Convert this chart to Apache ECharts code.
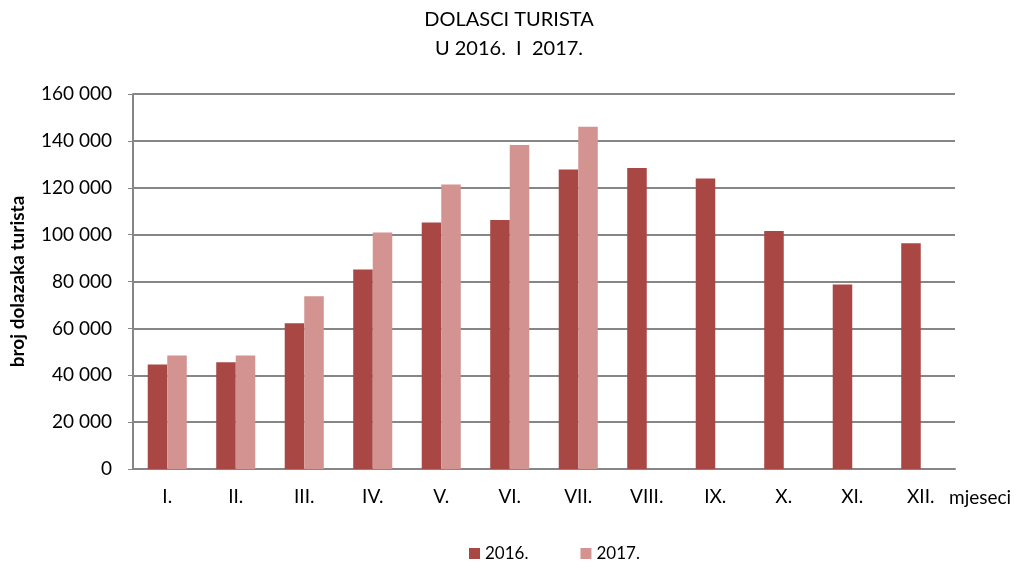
<!DOCTYPE html>
<html lang="hr">
<head>
    <meta charset="UTF-8">
    <title>Dolasci turista</title>
    <script src="https://cdn.jsdelivr.net/npm/echarts@6/dist/echarts.min.js"></script>
</head>
<body style="margin:0">
<div id="main" style="width: 1018px;height:564px;"></div>
<script type="text/javascript">
    var months = ['I.', 'II.', 'III.', 'IV.', 'V.', 'VI.', 'VII.', 'VIII.', 'IX.', 'X.', 'XI.', 'XII.'];
    var arrivals2016 = [44600, 45600, 62200, 85100, 105200, 106200, 127800, 128400, 124000, 101600, 78700, 96300];
    var arrivals2017 = [48400, 48400, 73700, 100900, 121400, 138200, 146000, null, null, null, null, null];

    var font = 'Lato';
    var myChart = echarts.init(document.getElementById('main'));

    myChart.setOption({
        animation: false,
        textStyle: { fontFamily: font },
        title: {
            text: 'DOLASCI TURISTA\nU 2016.  I  2017.',
            left: 'center',
            top: 0,
            textStyle: { fontFamily: font, fontSize: 20, fontWeight: 'normal', color: '#000', lineHeight: 29 }
        },
        legend: {
            top: 540,
            left: 464,
            itemWidth: 11,
            itemHeight: 11,
            itemGap: 52,
            icon: 'rect',
            textStyle: { fontFamily: font, fontSize: 17, color: '#000' },
            data: ['2016.', '2017.']
        },
        grid: { left: 133, right: 63, top: 94, bottom: 95, outerBoundsMode: 'none' },
        xAxis: {
            type: 'category',
            data: months,
            name: 'mjeseci',
            nameLocation: 'end',
            nameGap: -6,
            nameTextStyle: { fontFamily: font, fontSize: 19, color: '#000', verticalAlign: 'top', padding: [19, 0, 0, 0] },
            axisLine: { lineStyle: { color: '#868686', width: 2 } },
            axisTick: { show: false },
            axisLabel: { fontFamily: font, fontSize: 19, color: '#000', margin: 18 }
        },
        yAxis: {
            type: 'value',
            min: 0,
            max: 160000,
            interval: 20000,
            name: 'broj dolazaka turista',
            nameLocation: 'middle',
            nameGap: 106,
            nameRotate: 90,
            nameTextStyle: { fontFamily: font, fontSize: 19, fontWeight: 'bold', color: '#000' },
            axisLine: { show: true, lineStyle: { color: '#868686', width: 2 } },
            axisTick: { show: true, length: 5, lineStyle: { color: '#868686' } },
            splitLine: { lineStyle: { color: '#868686', width: 2 } },
            axisLabel: {
                fontFamily: font, fontSize: 19, color: '#000', margin: 21,
                formatter: function (v) {
                    return String(v).replace(/\B(?=(\d{3})+(?!\d))/g, ' ');
                }
            }
        },
        series: [{
            name: '2016.',
            type: 'bar',
            data: arrivals2016,
            barGap: '0%',
            barCategoryGap: '43%',
            itemStyle: { color: '#a94744' }
        }, {
            name: '2017.',
            type: 'bar',
            data: arrivals2017,
            itemStyle: { color: '#d39391' }
        }]
    });
</script>
</body>
</html>
